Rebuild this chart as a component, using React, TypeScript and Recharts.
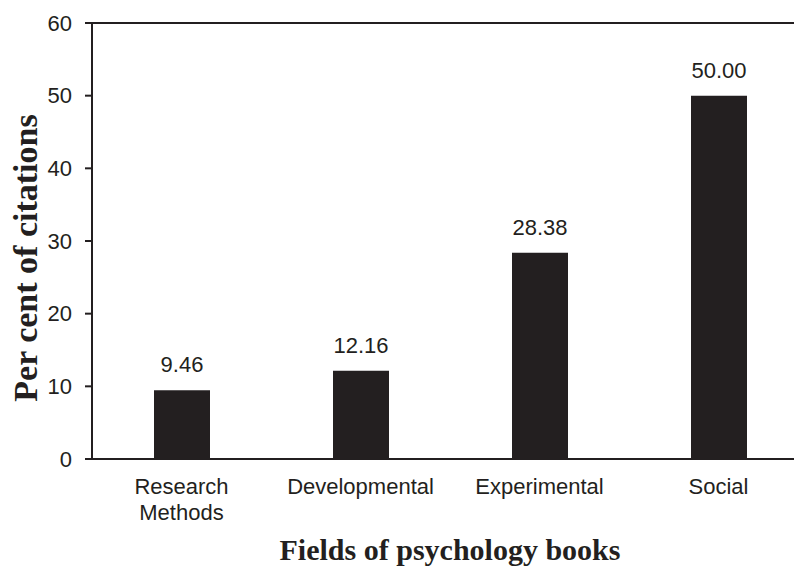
import React from "react";
import { BarChart, Bar, XAxis, YAxis, ReferenceLine, LabelList } from "recharts";

const fields = ["Research\nMethods", "Developmental", "Experimental", "Social"];
const percentages = [9.46, 12.16, 28.38, 50.0];
const yTicks = [0, 10, 20, 30, 40, 50, 60];

const data = fields.map((field, i) => ({ field, value: percentages[i] }));

const INK = "#231f20";
const SANS = "'Liberation Sans', Arial, Helvetica, sans-serif";
const SERIF = "'Liberation Serif', 'Times New Roman', serif";

const CategoryTick = (props: any) => {
  const { x, y, payload } = props;
  const lines = String(payload.value).split("\n");
  return (
    <text x={x} y={y} textAnchor="middle" fill={INK} fontFamily={SANS} fontSize={22}>
      {lines.map((line: string, i: number) => (
        <tspan key={i} x={x} dy={i === 0 ? 35 : 26}>
          {line}
        </tspan>
      ))}
    </text>
  );
};

const formatValue = (v: any) => Number(v).toFixed(2);

export default function App() {
  return (
    <div
      style={{
        position: "fixed",
        left: 0,
        top: 0,
        width: 794,
        height: 566,
        overflow: "hidden",
        background: "#fff",
      }}
    >
      <BarChart
        width={808}
        height={566}
        data={data}
        margin={{ top: 23, right: 0, left: 0, bottom: 77 }}
      >
        <ReferenceLine y={60} stroke={INK} strokeWidth={2} />
        <XAxis
          dataKey="field"
          height={30}
          axisLine={{ stroke: INK, strokeWidth: 2 }}
          tickLine={false}
          tickSize={0}
          tickMargin={0}
          tick={<CategoryTick />}
          interval={0}
        />
        <YAxis
          width={92}
          domain={[0, 60]}
          ticks={yTicks}
          interval={0}
          axisLine={{ stroke: INK, strokeWidth: 2 }}
          tickLine={{ stroke: INK, strokeWidth: 2 }}
          tickSize={7}
          tickMargin={13}
          tick={{ fill: INK, fontFamily: SANS, fontSize: 22 }}
        />
        <Bar dataKey="value" fill={INK} barSize={56} isAnimationActive={false}>
          <LabelList
            dataKey="value"
            position="top"
            offset={18}
            formatter={formatValue}
            fill={INK}
            fontFamily={SANS}
            fontSize={22}
          />
        </Bar>
        <text
          x={25}
          y={258}
          transform="rotate(-90 25 258)"
          textAnchor="middle"
          dominantBaseline="central"
          fill={INK}
          fontFamily={SERIF}
          fontWeight="bold"
          fontSize={34}
        >
          Per cent of citations
        </text>
        <text
          x={450}
          y={560}
          textAnchor="middle"
          fill={INK}
          fontFamily={SERIF}
          fontWeight="bold"
          fontSize={30}
        >
          Fields of psychology books
        </text>
      </BarChart>
    </div>
  );
}
